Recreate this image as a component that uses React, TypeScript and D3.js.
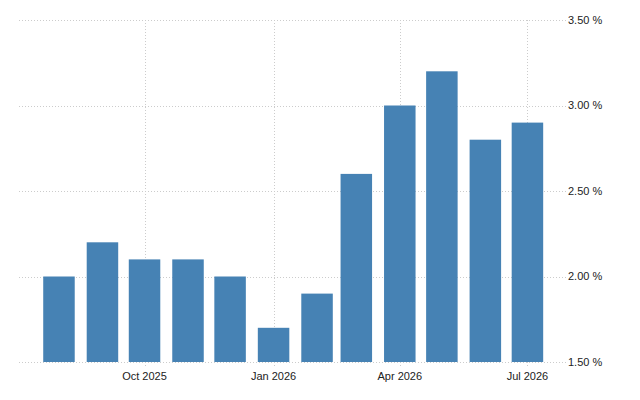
import * as React from "react";
import * as d3 from "d3";

const months: string[] = [
  "2025-08-01", "2025-09-01", "2025-10-01", "2025-11-01", "2025-12-01", "2026-01-01",
  "2026-02-01", "2026-03-01", "2026-04-01", "2026-05-01", "2026-06-01", "2026-07-01",
];
const rates: number[] = [2.0, 2.2, 2.1, 2.1, 2.0, 1.7, 1.9, 2.6, 3.0, 3.2, 2.8, 2.9];
const yTicks: number[] = [1.5, 2.0, 2.5, 3.0, 3.5];
const xTicks: string[] = ["2025-10-01", "2026-01-01", "2026-04-01", "2026-07-01"];

const width = 640;
const height = 400;
const parse = d3.utcParse("%Y-%m-%d");

export default function App() {
  const svgRef = React.useRef<SVGSVGElement>(null);

  React.useEffect(() => {
    const svgElement = svgRef.current;
    if (!svgElement) return;
    while (svgElement.firstChild) svgElement.removeChild(svgElement.firstChild);

    const svg = d3.select(svgElement);
    const font = '"Liberation Sans", Arial, sans-serif';

    const x = d3
      .scaleUtc()
      .domain([new Date(Date.UTC(2025, 6, 3, 12)), new Date(Date.UTC(2026, 6, 28, 12))])
      .range([19, 566]);
    const y = d3.scaleLinear().domain([1.5, 3.5]).range([362, 20]);

    const grid = svg.append("g");
    // horizontal grid
    grid
      .selectAll("line.h")
      .data(yTicks)
      .enter()
      .append("line")
      .attr("x1", 19)
      .attr("x2", 566)
      .attr("y1", (d) => Math.round(y(d)) + 0.5)
      .attr("y2", (d) => Math.round(y(d)) + 0.5)
      .attr("stroke", "#cccccc")
      .attr("stroke-dasharray", "1,2");
    // vertical grid
    grid
      .selectAll("line.v")
      .data(xTicks)
      .enter()
      .append("line")
      .attr("x1", (d) => Math.round(x(parse(d)!)) + 0.5)
      .attr("x2", (d) => Math.round(x(parse(d)!)) + 0.5)
      .attr("y1", 20)
      .attr("y2", 367)
      .attr("stroke", "#cccccc")
      .attr("stroke-dasharray", "1,2");

    const barW = 31.5;
    svg
      .append("g")
      .selectAll("rect")
      .data(months.map((m, i) => ({ date: parse(m)!, value: rates[i] })))
      .enter()
      .append("rect")
      .attr("x", (d) => x(d.date) - barW / 2)
      .attr("width", barW)
      .attr("y", (d) => y(d.value))
      .attr("height", (d) => y(1.5) - y(d.value))
      .attr("fill", "#4682b4");

    // y labels
    svg
      .append("g")
      .selectAll("text")
      .data(yTicks)
      .enter()
      .append("text")
      .attr("x", 568)
      .attr("y", (d) => y(d))
      .attr("dy", "0.35em")
      .attr("font-family", font)
      .attr("font-size", 11)
      .attr("fill", "#222")
      .text((d) => d3.format(".2f")(d) + " %");

    // x labels
    svg
      .append("g")
      .selectAll("text")
      .data(xTicks)
      .enter()
      .append("text")
      .attr("x", (d) => x(parse(d)!))
      .attr("y", 380)
      .attr("text-anchor", "middle")
      .attr("font-family", font)
      .attr("font-size", 11)
      .attr("fill", "#222")
      .text((d) => d3.utcFormat("%b %Y")(parse(d)!));
  }, []);

  return (
    <div style={{ position: "fixed", top: 0, left: 0 }}>
      <svg ref={svgRef} width={width} height={height} style={{ display: "block", background: "#fff" }} />
    </div>
  );
}
